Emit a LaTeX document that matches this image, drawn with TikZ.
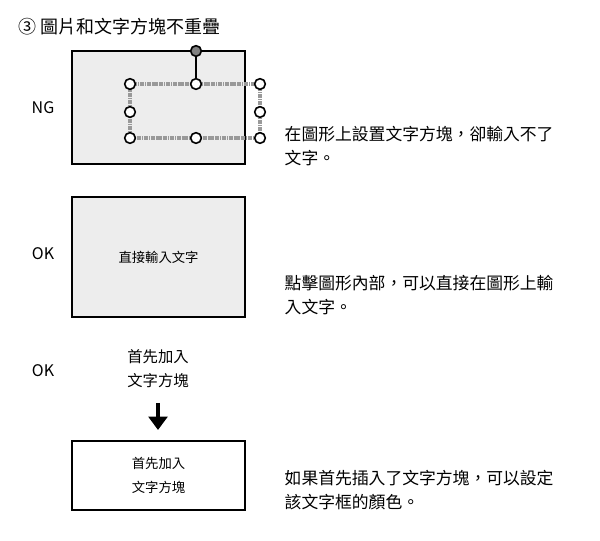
\documentclass[tikz,border=0pt]{standalone}
\usepackage{fontspec}
\setmainfont{Noto Sans CJK TC}
\usetikzlibrary{arrows.meta}
\tikzset{
  shapebox/.style={draw, line width=2.2pt, fill=black!7},
  handle/.style={circle, draw, line width=1.2pt, fill=white, inner sep=0pt, minimum size=8pt},
  frameline/.style={draw=black!40, line width=3.5pt, dash pattern=on 1pt off 0.3pt},
  note/.style={anchor=west, align=left, font=\fontsize{12.6}{18}\selectfont},
  tag/.style={font=\fontsize{12}{14}\selectfont},
  boxtext/.style={font=\fontsize{10}{18}\selectfont, align=center}
}
\begin{document}
\begin{tikzpicture}[x=0.75pt, y=-0.75pt]
\useasboundingbox (0,0) rectangle (600,541);
\node[anchor=west, font=\fontsize{13.5}{15}\selectfont] (title) at (14,27) {③ 圖片和文字方塊不重疊};

% NG
\draw[shapebox] (72,51) rectangle (245,164);
\draw[frameline] (130,84) rectangle (260,138);
\coordinate (rot) at (196,51);
\node[handle] (tm) at (196,84) {};
\draw[line width=1.8pt] (rot) -- (tm);
\node[circle, draw, line width=1.2pt, fill=black!50, inner sep=0pt, minimum size=8pt] at (rot) {};
\foreach \x/\y in {130/84, 260/84, 130/112, 260/112, 130/138, 196/138, 260/138}
  \node[handle] at (\x,\y) {};
\node[tag] (ng) at (43,108) {NG};
\node[note] (n1) at (280,146) {在圖形上設置文字方塊，卻輸入不了\\文字。};

% OK 1
\node[shapebox, minimum width=173*0.75pt, minimum height=120*0.75pt, boxtext] (direct) at (158.5,257) {直接輸入文字};
\node[tag] (ok1) at (43,254) {OK};
\node[note] (n2) at (280,295) {點擊圖形內部，可以直接在圖形上輸\\入文字。};

% OK 2
\node[tag] (ok2) at (43,371) {OK};
\node[align=center, font=\fontsize{11.5}{18}\selectfont] (first) at (158,369) {首先加入\\文字方塊};
\node[draw, line width=2pt, minimum width=173*0.75pt, minimum height=69*0.75pt, boxtext] (textbox) at (158.5,475.5) {首先加入\\文字方塊};
\coordinate (arrtop) at (158,403);
\coordinate (arrtip) at (158,430);
\draw[line width=3.5pt, -{Triangle[length=10pt, width=14pt]}] (arrtop) -- (arrtip);
\node[note] (n3) at (280,490) {如果首先插入了文字方塊，可以設定\\該文字框的顏色。};
\end{tikzpicture}
\end{document}
